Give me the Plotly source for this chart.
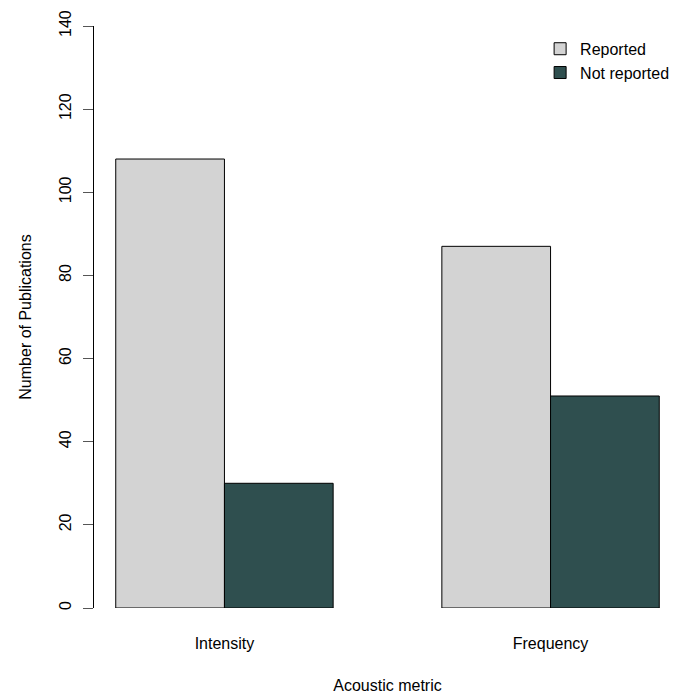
import plotly.graph_objects as go

categories = ["Intensity", "Frequency"]
reported = [108, 87]
not_reported = [30, 51]
series_names = ["Reported", "Not reported"]
y_ticks = [0, 20, 40, 60, 80, 100, 120, 140]

FONT = "Liberation Sans, Arial, sans-serif"

fig = go.Figure()
fig.add_trace(go.Bar(x=categories, y=reported, name=series_names[0],
                     marker=dict(color="#D3D3D3", line=dict(color="black", width=1))))
fig.add_trace(go.Bar(x=categories, y=not_reported, name=series_names[1],
                     marker=dict(color="#2F4F4F", line=dict(color="black", width=1))))

fig.update_layout(
    width=689, height=700,
    margin=dict(l=94, r=8, t=26, b=92),
    paper_bgcolor="white", plot_bgcolor="white",
    barmode="group", bargap=1/3, bargroupgap=0,
    font=dict(family=FONT, size=16, color="black"),
    showlegend=True,
    legend=dict(x=0.76, y=0.99, xanchor="left", yanchor="top",
                bgcolor="rgba(0,0,0,0)", font=dict(size=16),
                itemwidth=30, tracegroupgap=0),
    xaxis=dict(range=[-0.4, 1.4], showline=False, showgrid=False, zeroline=False,
               ticks="", ticklabelstandoff=24,
               title=dict(text="Acoustic metric", standoff=28, font=dict(size=16))),
    yaxis=dict(range=[0, 140], tickvals=y_ticks, showgrid=False, zeroline=False,
               showline=True, linecolor="black", linewidth=1,
               ticks="outside", ticklen=10, tickcolor="#555555", tickangle=-90,
               ticklabelstandoff=6,
               title=dict(text="Number of Publications", standoff=20, font=dict(size=16))),
)

fig.write_html("out.html", config={"displayModeBar": False},
               post_script="document.body.style.margin='0';document.body.style.padding='0';")
